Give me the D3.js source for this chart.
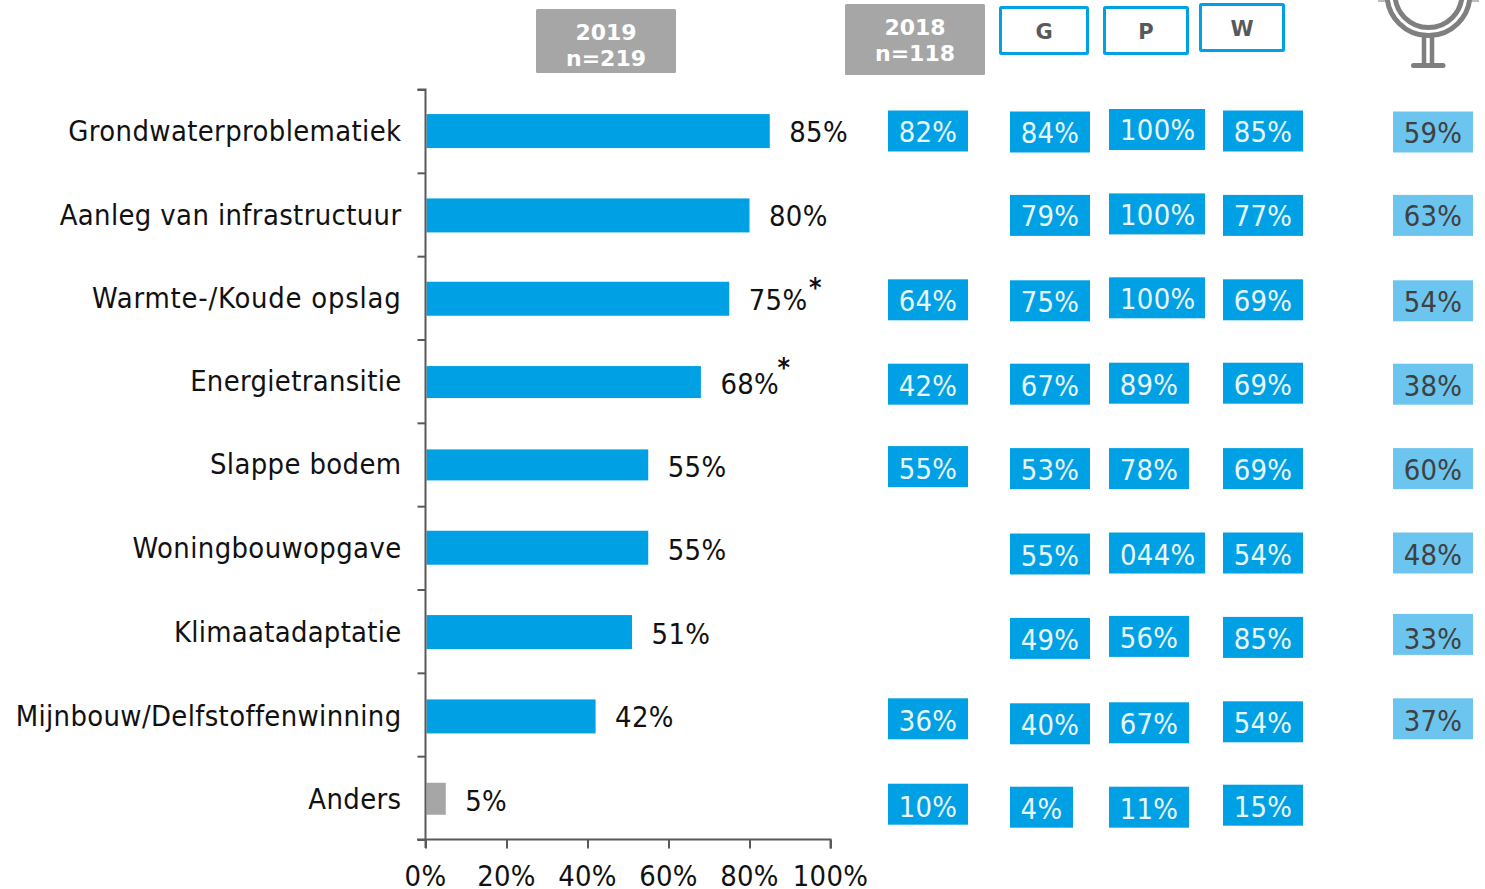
<!DOCTYPE html>
<html><head><meta charset="utf-8">
<script src="https://cdnjs.cloudflare.com/ajax/libs/d3/7.8.5/d3.min.js"></script>
<style>html,body{margin:0;padding:0;background:#fff;overflow:hidden}text{font-family:"DejaVu Sans",Verdana,sans-serif}</style>
</head><body><svg id="c" width="1485" height="889"></svg>
<script>
const categories=["Grondwaterproblematiek","Aanleg van infrastructuur","Warmte-/Koude opslag","Energietransitie","Slappe bodem","Woningbouwopgave","Klimaatadaptatie","Mijnbouw/Delfstoffenwinning","Anders"];
const values2019=[85,80,75,68,55,55,51,42,5];
const starred=[false,false,true,true,false,false,false,false,false];
const col2018=["82%",null,"64%","42%","55%",null,null,"36%","10%"];
const colG=["84%","79%","75%","67%","53%","55%","49%","40%","4%"];
const colP=["100%","100%","100%","89%","78%","044%","56%","67%","11%"];
const colW=["85%","77%","69%","69%","69%","54%","85%","54%","15%"];
const colBench=["59%","63%","54%","38%","60%","48%","33%","37%",null];
const xTicks=[0,20,40,60,80,100];
const blue="#00a1e4",light="#6cc5ee",grey="#a6a6a6",axisC="#595959";
const fs=26, sy=1.08;
const svg=d3.select("#c");
const x=d3.scaleLinear().domain([0,100]).range([425.5,830.5]);
const y=d3.scaleBand().domain(categories).range([89,839]).paddingInner(0.59).paddingOuter(0.295);
const rowY=d3.scalePoint().domain(categories).range([131,806.2]);
// small per-row placement offsets of the hand-placed boxes in the original
const nudge={c18:[0,0,0,0,-2,0,0,-3,-2],g:[1,0,1,0,0,1,1,2,1],p:[-1.5,-1.5,-2,-1,0,0,-1,1,1],w:[0,0,0,-1,0,0,0,0,-1],b:[1,0,1,0,0,0,-3,-3,0]};
const textNudge={row:[-.5,0,0,1,0,.5,1,0,1],c18:[0,0,0,0,1,0,0,1.5,1],none:[0,0,0,0,0,0,0,0,0],b:[0,0,0,0,0,0,3,1.5,0]};
const barNudge=[0,1,1,2,2,0,1,2,2];
const barHeight=[34,34,34,32,31,34,34,34,32];
const catSpacing=[.37,.37,.76,.32,.37,.37,.27,.34,.37];
const starNudge=[[0,0],[0,0],[1,3],[-2,-1]];
function txt(g,t,px,py,o={}){ // py = baseline
  return g.append("text").attr("transform",`translate(${px},${py}) scale(1,${o.sy||sy})`).attr("text-anchor",o.anchor||"middle")
   .attr("font-size",o.size||fs).attr("font-weight",o.weight||400).attr("fill",o.fill||"#111").attr("letter-spacing",o.ls||0).text(t);
}
// bars
const bars=svg.append("g");
bars.selectAll("rect").data(categories).join("rect")
 .attr("x",x(0)+1).attr("y",(d,i)=>y(d)+0.5+barNudge[i]).attr("height",(d,i)=>barHeight[i])
 .attr("width",(d,i)=>x(values2019[i])-x(0)-1).attr("fill",(d,i)=>d==="Anders"?grey:blue);
// axes
const gx=svg.append("g").attr("transform","translate(0,839.5)").call(d3.axisBottom(x).tickValues(xTicks).tickSize(9).tickFormat(()=>""));
gx.selectAll("path,line").attr("stroke",axisC).attr("stroke-width",2);
gx.select("path").attr("d","M417,0H830.5V9");
const yTickScale=d3.scaleLinear().domain([0,9]).range([89.5,839.5]);
const gy=svg.append("g").attr("transform","translate(425.5,0)").call(d3.axisLeft(yTickScale).ticks(9).tickSize(8).tickFormat(()=>""));
gy.selectAll("path,line").attr("stroke",axisC).attr("stroke-width",2);
gy.select("path").attr("d","M-8,89.5H0V848");
// x labels
const xl=svg.append("g");
xTicks.forEach(t=>txt(xl,t+"%",x(t),886,{ls:0.3}));
// category labels
const cl=svg.append("g");
categories.forEach((c,i)=>txt(cl,c,401.5,rowY(c)+9.8+[0,0,-2,-3,-4,-5,-5,-6,-7][i],{anchor:"end",ls:catSpacing[i]}));
// value labels
const vl=svg.append("g");
categories.forEach((c,i)=>{
  const px=x(values2019[i])+19.5, py=rowY(c)+10+[1,1,0,0,-2,-3.5,-3.5,-4.5,-5.5][i];
  txt(vl,values2019[i]+"%",px,py,{anchor:"start",ls:0.3});
  if(starred[i]) txt(vl,"*",px+65.5+starNudge[i][0],py-16+starNudge[i][1],{weight:700,size:24});
});
// table
const boxW=s=>s.length===2?63:s.length===3?80:96;
function column(data,left,nd,fill,tc,tn){
  const g=svg.append("g");
  categories.forEach((c,i)=>{
    const s=data[i]; if(!s) return;
    const cy=rowY(c)+nd[i], w=boxW(s);
    g.append("rect").attr("x",left).attr("y",cy-20.5).attr("width",w).attr("height",41).attr("fill",fill);
    txt(g,s,left+w/2+(s.length===4?0.7:0),cy+11+textNudge.row[i]+tn[i],{fill:tc,ls:0.3});
  });
}
column(col2018,888,nudge.c18,blue,"#e9f7fd",textNudge.c18);
column(colG,1010,nudge.g,blue,"#e9f7fd",textNudge.none);
column(colP,1109,nudge.p,blue,"#e9f7fd",textNudge.none);
column(colW,1223,nudge.w,blue,"#e9f7fd",textNudge.none);
column(colBench,1393,nudge.b,light,"#404040",textNudge.b);
// headers
const h=svg.append("g");
function greyHead(a,b,X,Y,W,H,b1,b2){
  h.append("rect").attr("x",X).attr("y",Y).attr("width",W).attr("height",H).attr("rx",1.5).attr("fill",grey);
  txt(h,a,X+W/2,b1,{fill:"#fff",weight:700,size:22,sy:1});
  txt(h,b,X+W/2,b2,{fill:"#fff",weight:700,size:22,sy:1});
}
greyHead("2019","n=219",536,9,140,64,39.5,65.5);
greyHead("2018","n=118",845,4,140,71,35,61);
function outlineHead(t,X,Y,W,H){
  h.append("rect").attr("x",X+1.5).attr("y",Y+1.5).attr("width",W-3).attr("height",H-3).attr("rx",1).attr("fill","#fff").attr("stroke",blue).attr("stroke-width",3);
  txt(h,t,X+W/2,Y+H/2+8,{fill:"#595959",weight:700,size:21,sy:1});
}
outlineHead("G",999,6,90,49);
outlineHead("P",1103,6,86,49);
outlineHead("W",1199,3,86,49);
// icon
const ic=svg.append("g").attr("fill","none").attr("stroke","#7f7f7f").attr("stroke-width",5);
ic.append("circle").attr("cx",1428.5).attr("cy",-5.9).attr("r",41.5);
ic.append("circle").attr("cx",1428.5).attr("cy",-5.9).attr("r",33.5);
ic.append("path").attr("d","M1424,37V64M1432,37V64").attr("stroke-width",4.5);
ic.append("path").attr("d","M1413.5,65.5H1443").attr("stroke-linecap","round");
ic.append("path").attr("d","M1378,1H1385M1472,1H1479").attr("stroke-width",2).attr("stroke","#bbb");
</script></body></html>
